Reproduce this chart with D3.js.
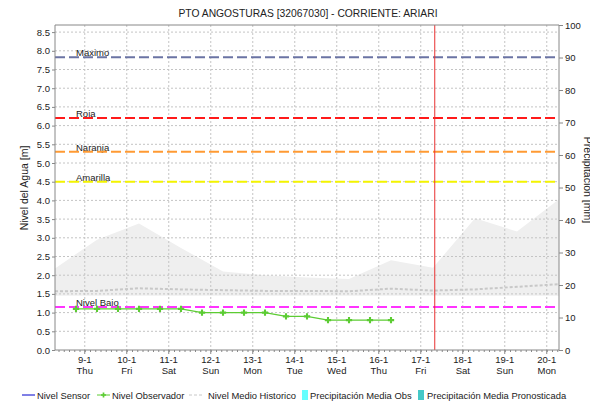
<!DOCTYPE html>
<html>
<head>
<meta charset="utf-8">
<script src="https://cdn.jsdelivr.net/npm/d3@7"></script>
<style>
body { margin: 0; background: #fff; overflow: hidden; }
text { font-family: "Liberation Sans", Arial, sans-serif; fill: #222; }
</style>
</head>
<body>
<div id="chart"></div>
<script>
var width = 590;
var height = 405;

var title = "PTO ANGOSTURAS [32067030] - CORRIENTE: ARIARI";

// observer readings (every 12 h)
var obsDates = ["2020-01-08 19:00", "2020-01-09 07:00", "2020-01-09 19:00", "2020-01-10 07:00",
  "2020-01-10 19:00", "2020-01-11 07:00", "2020-01-11 19:00", "2020-01-12 07:00",
  "2020-01-12 19:00", "2020-01-13 07:00", "2020-01-13 19:00", "2020-01-14 07:00",
  "2020-01-14 19:00", "2020-01-15 07:00", "2020-01-15 19:00", "2020-01-16 07:00"];
var obsValues = [1.1, 1.1, 1.1, 1.1, 1.1, 1.1, 1.0, 1.0, 1.0, 1.0, 0.9, 0.9, 0.8, 0.8, 0.8, 0.8];

// daily historic band + mean
var histDates = ["2020-01-08 07:00", "2020-01-09 07:00", "2020-01-10 07:00", "2020-01-11 07:00",
  "2020-01-12 07:00", "2020-01-13 07:00", "2020-01-14 07:00", "2020-01-15 07:00",
  "2020-01-16 07:00", "2020-01-17 07:00", "2020-01-18 07:00", "2020-01-19 07:00", "2020-01-20 07:00"];
var bandHigh = [2.18, 2.95, 3.38, 2.73, 2.1, 2.0, 1.94, 1.9, 2.4, 2.2, 3.52, 3.17, 4.03];
var bandLow = [1.45, 1.45, 1.45, 1.45, 1.45, 1.45, 1.45, 1.45, 1.45, 1.45, 1.45, 1.45, 1.45];
var histMean = [1.57, 1.58, 1.65, 1.62, 1.6, 1.58, 1.58, 1.57, 1.64, 1.59, 1.62, 1.69, 1.76];

// alert thresholds
var thresholdNames = ["Maximo", "Roja", "Naranja", "Amarilla", "Nivel Bajo"];
var thresholdValues = [7.83, 6.2, 5.3, 4.5, 1.15];
var thresholdColors = ["#6b74a4", "#ff1a1a", "#ff9a33", "#f4f400", "#ff33ff"];

var dayTicks = ["2020-01-09", "2020-01-10", "2020-01-11", "2020-01-12", "2020-01-13", "2020-01-14",
  "2020-01-15", "2020-01-16", "2020-01-17", "2020-01-18", "2020-01-19", "2020-01-20"];
var nowDate = "2020-01-17 08:00";

var legendNames = ["Nivel Sensor", "Nivel Observador", "Nivel Medio Historico",
  "Precipitación Media Obs", "Precipitación Media Pronosticada"];

var parse = d3.utcParse("%Y-%m-%d %H:%M");
var parseDay = d3.utcParse("%Y-%m-%d");

var pLeft = 55, pRight = 559, pTop = 25, pBottom = 350;

var svg = d3.select("#chart").append("svg")
  .attr("width", width)
  .attr("height", height);

var x = d3.scaleUtc()
  .domain([parse("2020-01-08 07:00"), parse("2020-01-20 07:00")])
  .range([pLeft, pRight]);
var y = d3.scaleLinear().domain([0, 8.69]).range([pBottom, pTop]);
var y2 = d3.scaleLinear().domain([0, 100]).range([pBottom, pTop]);

var levelTicks = d3.range(0, 8.51, 0.5);
var days = dayTicks.map(parseDay);

// historic band
var band = histDates.map(function(d, i) {
  return { date: parse(d), lo: bandLow[i], hi: bandHigh[i], mean: histMean[i] };
});
svg.append("path")
  .datum(band)
  .attr("fill", "#efefef")
  .attr("d", d3.area()
    .x(function(d) { return x(d.date); })
    .y0(function(d) { return y(d.lo); })
    .y1(function(d) { return y(d.hi); }));

// grid
svg.append("g").selectAll("line")
  .data(levelTicks.slice(1)).enter()
  .append("line")
  .attr("x1", pLeft).attr("x2", pRight)
  .attr("y1", function(d) { return y(d); })
  .attr("y2", function(d) { return y(d); })
  .attr("stroke", "#c4c4c4")
  .attr("stroke-dasharray", "2,2");
svg.append("g").selectAll("line")
  .data(days).enter()
  .append("line")
  .attr("x1", function(d) { return x(d); })
  .attr("x2", function(d) { return x(d); })
  .attr("y1", pTop).attr("y2", pBottom)
  .attr("stroke", "#c4c4c4")
  .attr("stroke-dasharray", "2,2");

// historic mean
svg.append("path")
  .datum(band)
  .attr("fill", "none")
  .attr("stroke", "#c8c8c8")
  .attr("stroke-width", 2)
  .attr("stroke-dasharray", "3,2")
  .attr("d", d3.line()
    .x(function(d) { return x(d.date); })
    .y(function(d) { return y(d.mean); }));

// thresholds
var th = svg.append("g").selectAll("g")
  .data(thresholdValues).enter()
  .append("g");
th.append("text")
  .attr("x", 76)
  .attr("y", function(d) { return y(d) - 1; })
  .attr("font-size", "9.5px")
  .text(function(d, i) { return thresholdNames[i]; });
th.append("line")
  .attr("x1", pLeft).attr("x2", pRight)
  .attr("y1", function(d) { return y(d); })
  .attr("y2", function(d) { return y(d); })
  .attr("stroke", function(d, i) { return thresholdColors[i]; })
  .attr("stroke-width", 2)
  .attr("stroke-dasharray", "10,4");

// observer line
var obs = obsDates.map(function(d, i) { return { date: parse(d), v: obsValues[i] }; });
svg.append("path")
  .datum(obs)
  .attr("fill", "none")
  .attr("stroke", "#5ccc33")
  .attr("stroke-width", 1.3)
  .attr("d", d3.line()
    .x(function(d) { return x(d.date); })
    .y(function(d) { return y(d.v); }));
svg.append("g").selectAll("path")
  .data(obs).enter()
  .append("path")
  .attr("transform", function(d) { return "translate(" + x(d.date) + "," + y(d.v) + ")"; })
  .attr("d", d3.symbol().type(d3.symbolCross).size(22))
  .attr("fill", "#5ccc33");

// now line
svg.append("line")
  .attr("x1", x(parse(nowDate))).attr("x2", x(parse(nowDate)))
  .attr("y1", pTop).attr("y2", pBottom)
  .attr("stroke", "#e83030")
  .attr("stroke-width", 1);

// frame top
svg.append("line").attr("x1", pLeft).attr("x2", pRight).attr("y1", pTop).attr("y2", pTop)
  .attr("stroke", "#888");

// left axis
var yAxis = svg.append("g")
  .attr("transform", "translate(" + pLeft + ",0)")
  .call(d3.axisLeft(y).tickValues(levelTicks).tickFormat(d3.format(".1f")).tickSize(3).tickPadding(2));
yAxis.select(".domain").attr("stroke", "#888").attr("d", "M0," + pTop + "V" + pBottom);
yAxis.selectAll(".tick line").attr("stroke", "#888");
yAxis.selectAll("text").attr("font-size", "9.5px").attr("fill", "#222");

// right axis
var y2Axis = svg.append("g")
  .attr("transform", "translate(" + pRight + ",0)")
  .call(d3.axisRight(y2).tickValues(d3.range(0, 101, 10)).tickSize(4).tickPadding(2));
y2Axis.select(".domain").attr("stroke", "#888").attr("d", "M0," + pTop + "V" + pBottom);
y2Axis.selectAll(".tick line").attr("stroke", "#888");
y2Axis.selectAll("text").attr("font-size", "9.5px").attr("fill", "#222");

// bottom axis with small hourly ticks
var xAxis = svg.append("g")
  .attr("transform", "translate(0," + pBottom + ")")
  .call(d3.axisBottom(x).ticks(d3.utcHour.every(3)).tickSize(2).tickFormat(""));
xAxis.select(".domain").attr("stroke", "#888").attr("d", "M" + pLeft + ",0H" + pRight);
xAxis.selectAll(".tick line").attr("stroke", "#888");

var dayFmt = d3.utcFormat("%-d-%-m");
var wkFmt = d3.utcFormat("%a");
var dl = svg.append("g").selectAll("g")
  .data(days).enter()
  .append("g")
  .attr("transform", function(d) { return "translate(" + x(d) + ",0)"; });
dl.append("line").attr("y1", pBottom).attr("y2", pBottom + 4).attr("stroke", "#888");
dl.append("text").attr("y", 363).attr("text-anchor", "middle").attr("font-size", "9.5px")
  .text(function(d) { return dayFmt(d); });
dl.append("text").attr("y", 374).attr("text-anchor", "middle").attr("font-size", "9.5px")
  .text(function(d) { return wkFmt(d); });

// titles
svg.append("text")
  .attr("x", 308).attr("y", 17)
  .attr("text-anchor", "middle")
  .attr("font-size", "10.3px")
  .text(title);
svg.append("text")
  .attr("transform", "translate(28,188) rotate(-90)")
  .attr("text-anchor", "middle")
  .attr("font-size", "10.5px")
  .text("Nivel del Agua [m]");
// right title sits mostly outside the picture, as in the original
svg.append("text")
  .attr("transform", "translate(584,180) rotate(90)")
  .attr("text-anchor", "middle")
  .attr("font-size", "10.5px")
  .text("Precipitación [mm]");

// legend
var ly = 395;
var leg = svg.append("g").attr("font-size", "9.4px");
leg.append("line").attr("x1", 22).attr("x2", 35).attr("y1", ly).attr("y2", ly).attr("stroke", "#0000cc");
leg.append("text").attr("x", 37).attr("y", ly + 3.5).text(legendNames[0]);
leg.append("line").attr("x1", 97).attr("x2", 110).attr("y1", ly).attr("y2", ly).attr("stroke", "#5ccc33");
leg.append("path").attr("transform", "translate(103.5," + ly + ")")
  .attr("d", d3.symbol().type(d3.symbolCross).size(14)).attr("fill", "#5ccc33");
leg.append("text").attr("x", 112).attr("y", ly + 3.5).text(legendNames[1]);
leg.append("line").attr("x1", 189).attr("x2", 204).attr("y1", ly).attr("y2", ly)
  .attr("stroke", "#c8c8c8").attr("stroke-dasharray", "3,2");
leg.append("text").attr("x", 208).attr("y", ly + 3.5).text(legendNames[2]);
leg.append("rect").attr("x", 302).attr("y", ly - 5).attr("width", 6).attr("height", 10).attr("fill", "#66ffff");
leg.append("text").attr("x", 310).attr("y", ly + 3.5).text(legendNames[3]);
leg.append("rect").attr("x", 418).attr("y", ly - 5).attr("width", 6).attr("height", 10).attr("fill", "#44c8c8");
leg.append("text").attr("x", 427).attr("y", ly + 3.5).text(legendNames[4]);
</script>
</body>
</html>
